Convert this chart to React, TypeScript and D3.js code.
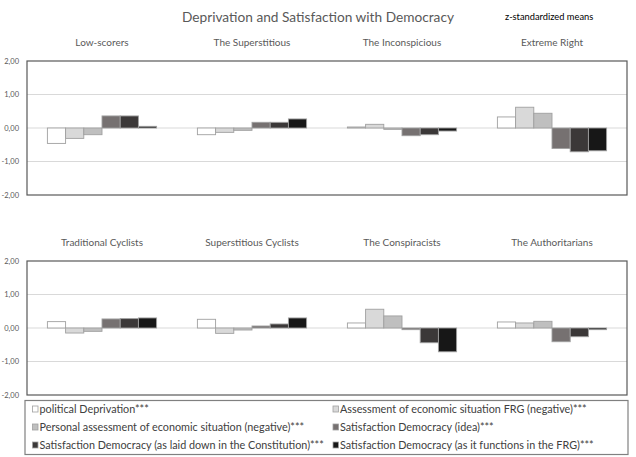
import React, { useEffect } from "react";
import * as d3 from "d3";

const title = "Deprivation and Satisfaction with Democracy";
const subtitle = "z-standardized means";

const groupsTop = ["Low-scorers", "The Superstitious", "The Inconspicious", "Extreme Right"];
const groupsBottom = ["Traditional Cyclists", "Superstitious Cyclists", "The Conspiracists", "The Authoritarians"];

const seriesNames = [
  "political Deprivation***",
  "Assessment of economic situation FRG (negative)***",
  "Personal assessment of economic situation (negative)***",
  "Satisfaction Democracy (idea)***",
  "Satisfaction Democracy (as laid down in the Constitution)***",
  "Satisfaction Democracy (as it functions in the FRG)***",
];

const seriesColors = ["#ffffff", "#d9d9d9", "#bfbfbf", "#767171", "#3b3838", "#171717"];

// values per group, in series order
const valuesTop = [
  [-0.46, -0.31, -0.2, 0.36, 0.36, 0.05],
  [-0.2, -0.13, -0.07, 0.17, 0.17, 0.27],
  [0.03, 0.11, -0.04, -0.23, -0.2, -0.09],
  [0.33, 0.62, 0.44, -0.61, -0.71, -0.68],
];
const valuesBottom = [
  [0.19, -0.15, -0.1, 0.27, 0.28, 0.3],
  [0.26, -0.16, -0.06, 0.06, 0.12, 0.3],
  [0.15, 0.56, 0.36, -0.05, -0.44, -0.71],
  [0.18, 0.15, 0.2, -0.41, -0.26, -0.05],
];

const yTicks = [2, 1, 0, -1, -2];
const yDomain = [-2, 2];

const FONT = "Lato, 'Open Sans', sans-serif";
const fmt = (v: number) => v.toFixed(2).replace(".", ",");

function Panel({ groups, values, top }: { groups: string[]; values: number[][]; top: number }) {
  const left = 27;
  const right = 627;
  const height = 134;
  const x = d3.scaleBand<string>().domain(groups).range([left, right]).padding(0);
  const inner = d3
    .scaleBand<number>()
    .domain(d3.range(seriesNames.length))
    .range([0, x.bandwidth()])
    .paddingInner(0)
    .paddingOuter(1.12);
  const y = d3.scaleLinear().domain(yDomain).range([top + height, top]);
  return (
    <g>
      {groups.map((g) => (
        <text
          key={g}
          x={(x(g) as number) + x.bandwidth() / 2}
          y={top - 15}
          textAnchor="middle"
          fontSize={10}
          fill="#595959"
          fontFamily={FONT}
        >
          {g}
        </text>
      ))}
      {yTicks.map((t) => (
        <g key={t}>
          {t !== 2 && t !== -2 && (
            <line x1={left} x2={right} y1={y(t)} y2={y(t)} stroke="#d9d9d9" strokeWidth={1} />
          )}
          <text
            x={19}
            y={y(t)}
            dy="0.35em"
            textAnchor="end"
            fontSize={7.5}
            fill="#595959"
            fontFamily={FONT}
          >
            {fmt(t)}
          </text>
        </g>
      ))}
      {groups.map((g, gi) =>
        values[gi].map((v, si) => {
          const bx = (x(g) as number) + (inner(si) as number);
          const y0 = y(0);
          const y1 = y(v);
          return (
            <rect
              key={g + si}
              x={bx}
              y={Math.min(y0, y1)}
              width={inner.bandwidth()}
              height={Math.abs(y1 - y0)}
              fill={seriesColors[si]}
              stroke="#a0a0a0"
              strokeWidth={0.9}
            />
          );
        })
      )}
      <rect
        x={left}
        y={top}
        width={right - left}
        height={height}
        fill="none"
        stroke="#595959"
        strokeWidth={1.2}
      />
    </g>
  );
}

function Legend() {
  const lx = 25;
  const ly = 400.5;
  const w = 603;
  const h = 54;
  const cols = [32.5, 333];
  const rows = [409, 427, 445];
  return (
    <g>
      <rect x={lx} y={ly} width={w} height={h} fill="#fff" stroke="#808080" strokeWidth={1.2} />
      {seriesNames.map((s, i) => {
        const cx = cols[i % 2];
        const cy = rows[Math.floor(i / 2)];
        return (
          <g key={s}>
            <rect
              x={cx}
              y={cy - 3}
              width={5.5}
              height={6}
              fill={seriesColors[i]}
              stroke="#a0a0a0"
              strokeWidth={0.8}
            />
            <text x={cx + 7} y={cy} dy="0.35em" fontSize={10.8} fill="#404040" fontFamily={FONT}>
              {s}
            </text>
          </g>
        );
      })}
    </g>
  );
}

export default function App() {
  useEffect(() => {
    document.body.style.margin = "0";
  }, []);
  return (
    <svg width={636} height={457} style={{ display: "block", background: "#fff" }}>
      <rect x={0} y={0} width={636} height={457} fill="#fff" />
      <text x={318} y={17} dy="0.35em" textAnchor="middle" fontSize={13.7} fill="#595959" fontFamily={FONT}>
        {title}
      </text>
      <text x={505} y={17} dy="0.35em" fontSize={9.3} fill="#000" fontFamily={FONT}>
        {subtitle}
      </text>
      <Panel groups={groupsTop} values={valuesTop} top={61} />
      <Panel groups={groupsBottom} values={valuesBottom} top={261} />
      <Legend />
    </svg>
  );
}
